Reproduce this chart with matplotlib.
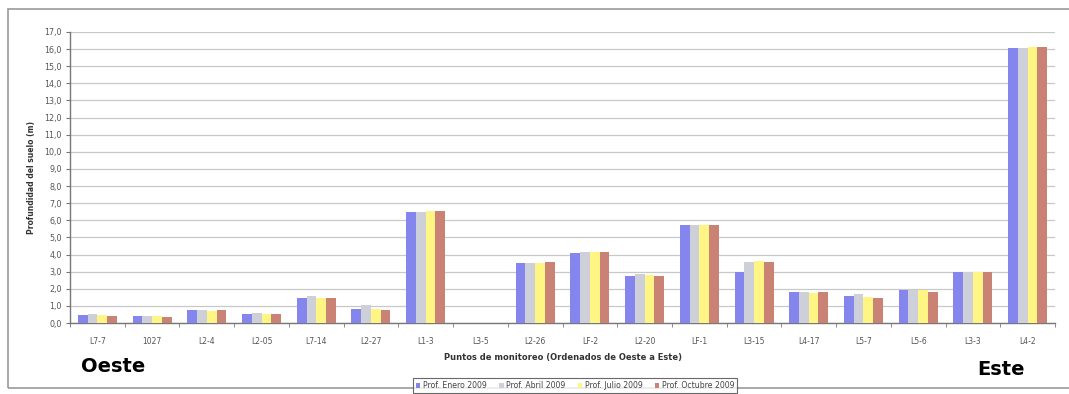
import numpy as np
import matplotlib
matplotlib.use("Agg")
import matplotlib.pyplot as plt
from matplotlib.patches import Rectangle
from matplotlib.ticker import FixedLocator, FuncFormatter

# Monitoring points, ordered west to east
puntos = ["L7-7", "1027", "L2-4", "L2-05", "L7-14", "L2-27", "L1-3", "L3-5", "L2-26",
          "LF-2", "L2-20", "LF-1", "L3-15", "L4-17", "L5-7", "L5-6", "L3-3", "L4-2"]

# Water table depth (m) for each campaign
prof_enero = [0.45, 0.40, 0.75, 0.50, 1.45, 0.80, 6.50, 0.0, 3.50, 4.10, 2.75, 5.70, 3.00, 1.80, 1.57, 1.95, 3.00, 16.05]
prof_abril = [0.55, 0.42, 0.75, 0.57, 1.55, 1.08, 6.50, 0.0, 3.50, 4.12, 2.85, 5.70, 3.55, 1.80, 1.70, 1.95, 3.00, 16.05]
prof_julio = [0.48, 0.40, 0.70, 0.52, 1.47, 0.82, 6.55, 0.0, 3.52, 4.15, 2.78, 5.70, 3.60, 1.75, 1.50, 1.90, 3.00, 16.15]
prof_octubre = [0.38, 0.33, 0.75, 0.50, 1.45, 0.77, 6.55, 0.0, 3.55, 4.14, 2.72, 5.70, 3.55, 1.80, 1.45, 1.84, 3.00, 16.10]

series = [
    ("Prof. Enero 2009", prof_enero, "#8585ee"),
    ("Prof. Abril 2009", prof_abril, "#cdd0d8"),
    ("Prof. Julio 2009", prof_julio, "#fff585"),
    ("Prof. Octubre 2009", prof_octubre, "#c98273"),
]

W, H = 1069, 394
fig = plt.figure(figsize=(W / 100, H / 100), dpi=100)
fig.patch.set_facecolor("white")

# outer chart frame
fig.add_artist(Rectangle((8 / W, 1 - 388 / H), 1.2, (388 - 9) / H,
                         transform=fig.transFigure, fill=False,
                         edgecolor="#9a9a9a", linewidth=1.2))

ax = fig.add_axes([70 / W, 1 - 323 / H, (1055 - 70) / W, (323 - 32) / H])
x = np.arange(len(puntos))
bw = 0.178
for i, (name, vals, col) in enumerate(series):
    ax.bar(x + (i - 1.5) * bw, vals, width=bw, color=col, label=name,
           linewidth=0, zorder=3)

ax.set_xlim(-0.5, len(puntos) - 0.5)
ax.set_ylim(0, 17)
ax.yaxis.set_major_locator(FixedLocator(np.arange(0, 18, 1)))
ax.yaxis.set_major_formatter(FuncFormatter(lambda v, p: f"{v:.1f}".replace(".", ",")))
ax.grid(axis="y", color="#c8c8c8", linewidth=0.9, zorder=0)
ax.set_axisbelow(True)

ax.set_xticks(x)
ax.set_xticklabels(puntos)
ax.xaxis.set_minor_locator(FixedLocator(np.arange(-0.5, len(puntos), 1)))
ax.tick_params(axis="x", which="major", length=0, labelsize=5.5, colors="#555555", pad=10)
ax.tick_params(axis="x", which="minor", length=3, color="#777777", direction="out")
ax.tick_params(axis="y", length=3, color="#777777", labelsize=5.8, labelcolor="#555555", pad=3)

for s in ["top", "right"]:
    ax.spines[s].set_visible(False)
for s in ["left", "bottom"]:
    ax.spines[s].set_color("#777777")
    ax.spines[s].set_linewidth(1.0)

ax.set_ylabel("Profundidad del suelo (m)", fontsize=5.5, fontweight="bold",
              color="#333333", labelpad=6)
ax.set_xlabel("Puntos de monitoreo (Ordenados de Oeste a Este)", fontsize=6,
              fontweight="bold", color="#333333", labelpad=5)

leg = fig.legend(loc="center", bbox_to_anchor=(575 / W, 1 - 385.5 / H), ncol=4,
                 fontsize=5.6, frameon=True, fancybox=False, edgecolor="#444444",
                 handlelength=0.6, handleheight=0.6, handletextpad=0.3,
                 columnspacing=1.6, borderpad=0.35, labelcolor="#444444")
leg.get_frame().set_linewidth(0.8)

fig.text(81 / W, 1 - 372 / H, "Oeste", fontsize=14, fontweight="bold",
         color="black", ha="left", va="baseline")
fig.text(1001 / W, 1 - 375 / H, "Este", fontsize=14, fontweight="bold",
         color="black", ha="center", va="baseline")

fig.savefig("out.png", dpi=100)
